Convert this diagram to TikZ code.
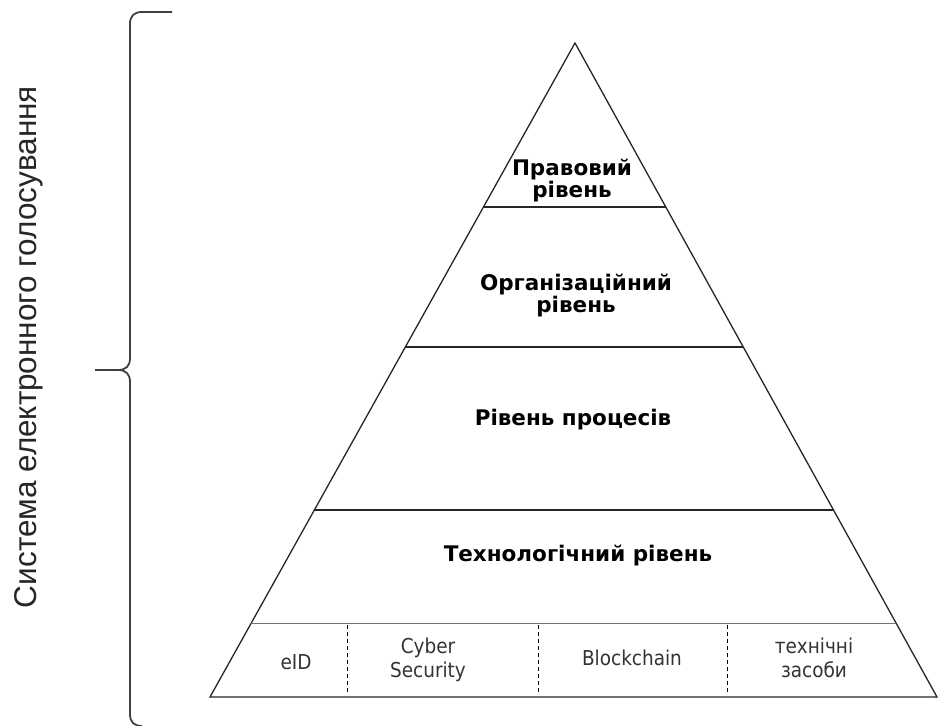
\documentclass[tikz,border=0pt]{standalone}
\usepackage{fontspec}
\setmainfont{DejaVu Sans}
\newfontfamily\sidefont{Liberation Sans}
\newfontfamily\partfont{DejaVu Sans Condensed}
\usetikzlibrary{calc}

\begin{document}
\begin{tikzpicture}[
    x=1pt, y=-1pt,
    edge/.style={line width=1.3pt, black!85},
    tier/.style={line width=2.6pt, black!85},
    thin/.style={line width=0.9pt, black!55},
    sep/.style={dashed, line width=1pt, dash pattern=on 4pt off 3pt},
    brace/.style={line width=1.8pt, black!75},
    level/.style={font=\fontsize{21.5}{22}\selectfont\bfseries, align=center},
    part/.style={font=\partfont\fontsize{20.5}{24}\selectfont, align=center, text=black!80}
]
    \useasboundingbox (0,0) rectangle (938,726);
    \coordinate (apex) at (575,43);
    \coordinate (bl) at (210,697);
    \coordinate (br) at (937,697);

    % Pyramid
    \draw[edge] (apex) -- (bl) -- (br) -- cycle;

    % Level borders
    \foreach \t in {0.2508, 0.4648, 0.714}
        \draw[tier] ($(apex)!\t!(bl)$) -- ($(apex)!\t!(br)$);
    \draw[thin] ($(apex)!0.8869!(bl)$) -- ($(apex)!0.8869!(br)$);

    % Base row separators
    \foreach \x in {347, 538, 727}
        \draw[sep] (\x,625) -- (\x,692);

    % Levels
    \node[level] (legal) at (572,181) {Правовий\\рівень};
    \node[level] (org) at (576,296) {Організаційний\\рівень};
    \node[level] (proc) at (573,420) {Рівень процесів};
    \node[level] (tech) at (578,556) {Технологічний рівень};

    % Technologies
    \node[part] (eid) at (296,662) {eID};
    \node[part] (cyber) at (428,660) {Cyber\\Security};
    \node[part] (chain) at (632,658) {Blockchain};
    \node[part] (hw) at (814,658) {технічні\\засоби};

    % Brace with title
    \draw[brace] (172,12) -- (142,12) .. controls (134,12) and (130,16) .. (130,24)
        -- (130,358) .. controls (130,366) and (126,370) .. (118,370) -- (95,370);
    \draw[brace] (118,370) .. controls (126,370) and (130,374) .. (130,382)
        -- (130,714) .. controls (130,722) and (134,726) .. (142,726);
    \node[rotate=90, font=\sidefont\fontsize{31.5}{34}\selectfont, text=black!85] (title) at (29,347) {Система електронного голосування};
\end{tikzpicture}
\end{document}
